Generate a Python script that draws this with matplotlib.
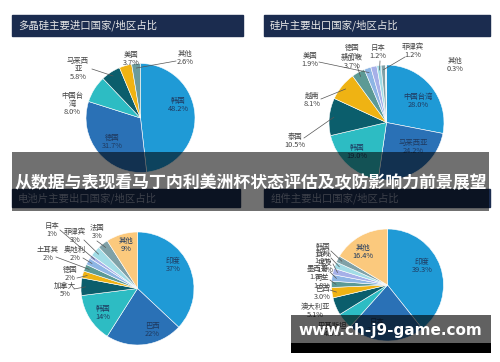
import matplotlib
matplotlib.use('Agg')
import matplotlib.pyplot as plt
from matplotlib.patches import Rectangle
import numpy as np

plt.rcParams['font.family'] = ['Noto Sans CJK SC', 'DejaVu Sans']

W, H = 500, 362

def Y(py):
    return H - py

# chart 1: polysilicon imports
p1_names = ['韩国', '德国', '中国台\n湾', '马来西\n亚', '美国', '其他']
p1_vals = [48.2, 31.7, 8.0, 5.8, 3.7, 2.6]

# chart 2: wafer exports
p2_names = ['中国台湾', '马来西亚', '韩国', '泰国', '越南', '新加坡', '美国', '德国', '日本', '菲律宾', '其他']
p2_vals = [28.0, 24.2, 19.0, 10.5, 8.1, 3.7, 1.9, 1.7, 1.2, 1.2, 0.3]

# chart 3: cell exports
p3_names = ['印度', '巴西', '韩国', '加拿大', '德国', '土耳其', '奥地利', '日本', '菲律宾', '法国', '其他']
p3_vals = [37, 22, 14, 5, 2, 2, 2, 1, 3, 3, 9]

# chart 4: module exports
p4_names = ['印度', '日本', '巴基斯坦', '澳大利亚', '巴西', '荷兰', '墨西哥', '埃及', '智利', '韩国', '其他']
p4_vals = [39.3, 22.3, 4.6, 5.1, 3.0, 1.8, 1.9, 1.8, 1.9, 1.9, 16.4]

C_BLUE = '#1f9ad6'
C_MID = '#2a71b6'
C_TURQ = '#2dbcc3'
C_DTEAL = '#0b5e6c'
C_GOLD = '#efb313'
C_GRN = '#5c9a95'
C_LB = '#8db5e4'
C_LAV = '#a6b0e8'
C_CYAN = '#a2dce6'
C_GRAY = '#80a1a7'
C_PEACH = '#fbc97d'

p1_cols = [C_BLUE, C_MID, C_TURQ, C_DTEAL, C_GOLD, '#6a9b9c']
p2_cols = [C_BLUE, C_MID, C_TURQ, C_DTEAL, C_GOLD, C_GRN, C_LB, C_LAV, C_CYAN, C_GRAY, '#d8e4e8']
p3_cols = [C_BLUE, C_MID, C_TURQ, C_DTEAL, C_GOLD, C_GRN, C_LB, C_LAV, C_CYAN, C_GRAY, C_PEACH]
p4_cols = p3_cols

# label layout: (text centre px, line start px or None, inside?)
p1_pos = [((178, 105), None, True), ((112, 142), None, True), ((72, 104), None, False),
          ((78, 69), (92, 69), False), ((131, 59), None, False), ((185, 58), (176, 61), False)]
p2_pos = [((418, 101), None, True), ((413, 147), None, True), ((357, 152), None, True),
          ((295, 141), (304, 138), False), ((312, 100), (321, 99), False),
          ((352, 62), (357, 66), False), ((310, 60), (319, 62), False),
          ((352, 52), None, False), ((378, 52), (380, 61), False),
          ((413, 51), (405, 57), False), ((455, 65), None, False)]
p3_pos = [((173, 265), None, True), ((152, 330), None, True), ((103, 313), None, True),
          ((65, 290), (74, 289), False), ((70, 274), (77, 278), False),
          ((48, 254), (56, 257), False), ((75, 254), (83, 258), False),
          ((52, 230), (60, 230), False), ((75, 236), (84, 240), False),
          ((97, 232), (97, 241), False), ((126, 245), None, True)]
p4_pos = [((422, 266), None, True), ((377, 326), None, True), ((332, 330), None, False),
          ((315, 311), None, False), ((322, 293), (330, 290), False),
          ((322, 282), (330, 280), False), ((318, 273), (330, 272), False),
          ((325, 266), (333, 264), False), ((323, 257), (331, 258), False),
          ((323, 251), (331, 251), False), ((363, 252), None, True)]

fig = plt.figure(figsize=(W / 100, H / 100), dpi=100)
ax = fig.add_axes([0, 0, 1, 1])


def draw_pie(cx, cy, R, vals, cols, names, pos, fmt):
    wedges, _ = ax.pie(vals, colors=cols, startangle=90, counterclock=False,
                       center=(cx, Y(cy)), radius=R,
                       wedgeprops=dict(linewidth=0.4, edgecolor='white'))
    for w, n, v, (tp, lp, inside) in zip(wedges, names, vals, pos):
        txt = n + '\n' + fmt.format(v)
        ax.text(tp[0], Y(tp[1]), txt, ha='center', va='center', fontsize=5.3,
                linespacing=1.05, color='#1f3a60' if inside else '#444444', zorder=5)
        if lp is not None:
            th = np.deg2rad((w.theta1 + w.theta2) / 2)
            ex = cx + 0.92 * R * np.cos(th)
            ey = Y(cy) + 0.92 * R * np.sin(th)
            ax.plot([lp[0], ex], [Y(lp[1]), ey], color='#555555', lw=0.5, zorder=4)


draw_pie(140.5, 118, 54.5, p1_vals, p1_cols, p1_names, p1_pos, '{:.1f}%')
draw_pie(386.5, 122.5, 57.5, p2_vals, p2_cols, p2_names, p2_pos, '{:.1f}%')
draw_pie(137.5, 288.5, 56.5, p3_vals, p3_cols, p3_names, p3_pos, '{:.0f}%')
draw_pie(387.5, 285, 56, p4_vals, p4_cols, p4_names, p4_pos, '{:.1f}%')

# title bars
NAVY = '#1b2c4f'
ax.add_patch(Rectangle((12, Y(36)), 231, 21, color=NAVY, zorder=2))
ax.add_patch(Rectangle((264, Y(36)), 226, 21, color=NAVY, zorder=2))
ax.text(18, Y(25.5), '多晶硅主要进口国家/地区占比', color='#e8e8e8', fontsize=7.5,
        va='center', ha='left', zorder=3)
ax.text(270, Y(25.5), '硅片主要出口国家/地区占比', color='#e8e8e8', fontsize=7.5,
        va='center', ha='left', zorder=3)
ax.add_patch(Rectangle((12, Y(207)), 228, 18, color=NAVY, zorder=2))
ax.add_patch(Rectangle((264, Y(207)), 226, 18, color=NAVY, zorder=2))
ax.text(18, Y(198), '电池片主要出口国家/地区占比', color='#8a93a8', fontsize=7.5,
        va='center', ha='left', zorder=3)
ax.text(271, Y(198), '组件主要出口国家/地区占比', color='#8a93a8', fontsize=7.5,
        va='center', ha='left', zorder=3)

# overlay banner
ax.add_patch(Rectangle((12, Y(211)), 477, 59, color='black', alpha=0.56, lw=0, zorder=10))
ax.text(250.5, Y(183), '从数据与表现看马丁内利美洲杯状态评估及攻防影响力前景展望',
        color='white', fontsize=12.2, fontweight='bold', ha='center', va='center', zorder=11)

# site banner
ax.add_patch(Rectangle((291, Y(343)), 200, 28, color='black', alpha=0.62, lw=0, zorder=10))
ax.add_patch(Rectangle((291, Y(353)), 200, 10, color='black', lw=0, zorder=10))
ax.text(390, Y(330), 'www.ch-j9-game.com', color='white', fontsize=11,
        fontweight='bold', family='DejaVu Sans', ha='center', va='center', zorder=11)

ax.set_xlim(0, W)
ax.set_ylim(0, H)
ax.set_aspect('auto')
ax.axis('off')

fig.savefig('out.png', dpi=100, facecolor='white')
